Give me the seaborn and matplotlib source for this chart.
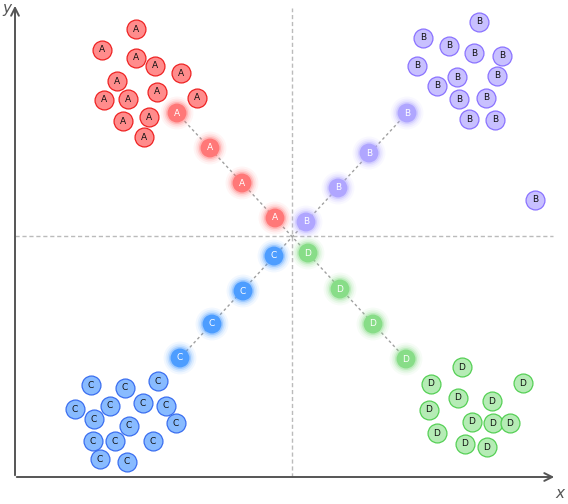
import matplotlib
matplotlib.use("Agg")
import matplotlib.pyplot as plt
import seaborn as sns
import pandas as pd

# cluster points (x, y), origin at the crossing of the dashed guides
a_x = [-156, -190, -156, -137, -111, -175, -135, -188, -164, -95, -169, -143, -148]
a_y = [207, 186, 178, 170, 163, 155, 144, 136, 137, 138, 115, 119, 99]
b_x = [187, 131, 157, 182, 210, 125, 205, 165, 145, 167, 194, 177, 203, 243]
b_y = [214, 198, 190, 183, 180, 170, 160, 159, 150, 137, 138, 117, 116, 36]
c_x = [-201, -167, -134, -217, -182, -149, -126, -198, -116, -163, -199, -177, -139, -192, -165]
c_y = [-149, -152, -145, -173, -170, -167, -170, -183, -187, -190, -205, -205, -205, -223, -226]
d_x = [170, 139, 231, 166, 200, 137, 180, 201, 218, 145, 173, 195]
d_y = [-131, -148, -147, -162, -165, -174, -186, -187, -187, -197, -208, -211]

# glowing points along the diagonals
ga_x = [-115, -82, -50, -17]
ga_y = [123, 88, 53, 18]
gb_x = [115, 77, 46, 14]
gb_y = [123, 83, 48, 14]
gc_x = [-18, -49, -80, -112]
gc_y = [-20, -55, -88, -122]
gd_x = [16, 48, 81, 114]
gd_y = [-17, -53, -88, -123]

labels = ["A", "B", "C", "D"]
fills = {"A": "#ff8c8c", "B": "#c8c0ff", "C": "#88bbff", "D": "#b5ecb5"}
edges = {"A": "#ee2222", "B": "#8a72ff", "C": "#3a6ef0", "D": "#55d055"}
glows = {"A": "#ff7878", "B": "#b0a6ff", "C": "#4d9dff", "D": "#88dd88"}

clusters = pd.DataFrame({
    "x": a_x + b_x + c_x + d_x,
    "y": a_y + b_y + c_y + d_y,
    "label": ["A"] * len(a_x) + ["B"] * len(b_x) + ["C"] * len(c_x) + ["D"] * len(d_x),
})
glow = pd.DataFrame({
    "x": ga_x + gb_x + gc_x + gd_x,
    "y": ga_y + gb_y + gc_y + gd_y,
    "label": ["A"] * 4 + ["B"] * 4 + ["C"] * 4 + ["D"] * 4,
})

sns.set_style("white")
fig = plt.figure(figsize=(5.68, 5.04), dpi=100)
ax = fig.add_axes([0, 0, 1, 1])
ax.set_xlim(-292, 276)
ax.set_ylim(-268, 236)
ax.axis("off")

# dashed guides
ax.plot([0, 0], [-241, 228], ls="--", color="#bbbbbb", lw=1, dashes=(3, 2), zorder=1)
ax.plot([-277, 261], [0, 0], ls="--", color="#bbbbbb", lw=1, dashes=(3, 2), zorder=1)
ax.plot([ga_x[0], gd_x[-1]], [ga_y[0], gd_y[-1]], ls="--", color="#a0a0a0", lw=1, dashes=(2, 2), zorder=1)
ax.plot([gb_x[0], gc_x[-1]], [gb_y[0], gc_y[-1]], ls="--", color="#a0a0a0", lw=1, dashes=(2, 2), zorder=1)

# axis arrows
ax.annotate("", xy=(-277, 233), xytext=(-277, -242),
            arrowprops=dict(arrowstyle="->", color="#555555", lw=1.4, mutation_scale=14))
ax.annotate("", xy=(265, -241), xytext=(-278, -241),
            arrowprops=dict(arrowstyle="->", color="#555555", lw=1.4, mutation_scale=14))
ax.text(-285, 228, "y", fontsize=11, style="italic", color="#555555", ha="center", va="center")
ax.text(268, -257, "x", fontsize=11, style="italic", color="#555555", ha="center", va="center")

# glow halos
for size, alpha in [(560, 0.07), (430, 0.11), (330, 0.18), (250, 0.32)]:
    sns.scatterplot(data=glow, x="x", y="y", hue="label", palette=glows, s=size,
                    alpha=alpha, linewidth=0, legend=False, ax=ax, zorder=2)
sns.scatterplot(data=glow, x="x", y="y", hue="label", palette=glows, s=185,
                linewidth=0, legend=False, ax=ax, zorder=3)
for _, r in glow.iterrows():
    ax.text(r["x"], r["y"], r["label"], fontsize=6.5, color="white", ha="center", va="center", zorder=4)

# cluster points
for lab in labels:
    sub = clusters[clusters["label"] == lab]
    sns.scatterplot(data=sub, x="x", y="y", color=fills[lab], edgecolor=edges[lab],
                    s=185, linewidth=0.9, legend=False, ax=ax, zorder=3)
for _, r in clusters.iterrows():
    ax.text(r["x"], r["y"], r["label"], fontsize=6.5, color="#111111", ha="center", va="center", zorder=4)

ax.set_xlim(-292, 276)
ax.set_ylim(-268, 236)
fig.savefig("out.png", dpi=100)
